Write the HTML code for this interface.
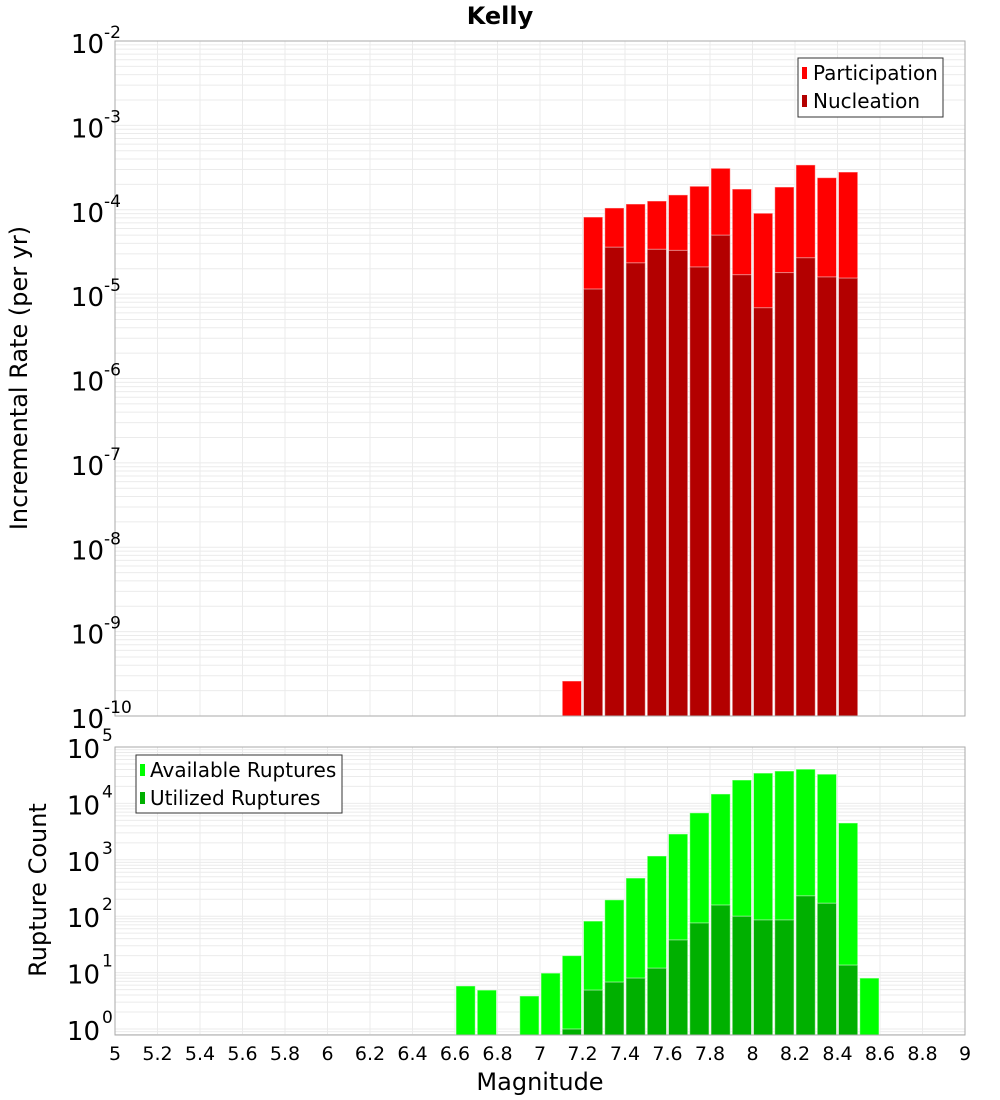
<!DOCTYPE html>
<html><head><meta charset="utf-8"><style>
body{margin:0;background:#fff}
svg{display:block;font-family:"DejaVu Sans","Liberation Sans",sans-serif}
</style></head><body>
<svg id="chart" width="1000" height="1100" viewBox="0 0 1000 1100" xmlns="http://www.w3.org/2000/svg">
<text x="500" y="24" text-anchor="middle" font-size="24" font-weight="bold">Kelly</text>
<g id="topPanel"></g><g id="botPanel"></g>
<text transform="translate(27,378) rotate(-90)" text-anchor="middle" font-size="24">Incremental Rate (per yr)</text>
<text transform="translate(46,890) rotate(-90)" text-anchor="middle" font-size="24">Rupture Count</text>
<text x="540" y="1090" text-anchor="middle" font-size="24">Magnitude</text>
<g>
<rect x="798" y="58" width="145" height="59" fill="#fff" stroke="#333"/>
<rect x="802" y="67" width="5" height="12" fill="#ff0000"/>
<text x="813" y="80" font-size="20">Participation</text>
<rect x="802" y="95" width="5" height="12" fill="#b30000"/>
<text x="813" y="108" font-size="20">Nucleation</text>
</g>
<g>
<rect x="136" y="755" width="206" height="58" fill="#fff" stroke="#333"/>
<rect x="140" y="764" width="5" height="12" fill="#00ff00"/>
<text x="150" y="777" font-size="20">Available Ruptures</text>
<rect x="140" y="792" width="5" height="12" fill="#00b000"/>
<text x="150" y="805" font-size="20">Utilized Ruptures</text>
</g>
</svg>
<script>
const partMags=[7.1,7.2,7.3,7.4,7.5,7.6,7.7,7.8,7.9,8.0,8.1,8.2,8.3,8.4];
const partVals=[2.6e-10,8.2e-5,1.05e-4,1.17e-4,1.27e-4,1.5e-4,1.9e-4,3.1e-4,1.76e-4,9.1e-5,1.86e-4,3.4e-4,2.4e-4,2.8e-4];
const nuclMags=[7.2,7.3,7.4,7.5,7.6,7.7,7.8,7.9,8.0,8.1,8.2,8.3,8.4];
const nuclVals=[1.15e-5,3.6e-5,2.35e-5,3.4e-5,3.3e-5,2.1e-5,5.0e-5,1.7e-5,6.9e-6,1.8e-5,2.7e-5,1.6e-5,1.55e-5];
const availMags=[6.6,6.7,6.9,7.0,7.1,7.2,7.3,7.4,7.5,7.6,7.7,7.8,7.9,8.0,8.1,8.2,8.3,8.4,8.5];
const availVals=[5.8,4.9,3.85,9.8,20,82,195,475,1170,2870,6800,14700,26000,34500,37500,40500,33000,4500,8];
const usedMags=[7.1,7.2,7.3,7.4,7.5,7.6,7.7,7.8,7.9,8.0,8.1,8.2,8.3,8.4];
const usedVals=[1,4.9,6.8,8,12,38,76,158,100,86,86,230,170,13.6];
const xTicks=["5","5.2","5.4","5.6","5.8","6","6.2","6.4","6.6","6.8","7","7.2","7.4","7.6","7.8","8","8.2","8.4","8.6","8.8","9"];
const topExps=[-2,-3,-4,-5,-6,-7,-8,-9,-10];
const botExps=[5,4,3,2,1,0];

const NS="http://www.w3.org/2000/svg";
const PL=115,PR=965;
const X=m=>PL+(m-5)*(PR-PL)/4;
const yTop=v=>41+(-2-Math.log10(v))*84.375;
const yBot=v=>1029-Math.log10(v)*56.4;
function mk(p,tag,a){const e=document.createElementNS(NS,tag);for(const k in a)e.setAttribute(k,a[k]);p.appendChild(e);return e;}
function panel(g,y0,y1,yf,lo,hi,name){
  const bg=mk(g,'rect',{x:PL,y:y0,width:PR-PL,height:y1-y0,fill:'#fff'});
  
  
  for(let e=lo;e<hi;e++)for(let k=1;k<10;k++){const y=yf(k*Math.pow(10,e));if(y>=y0&&y<=y1)mk(g,'line',{x1:PL,x2:PR,y1:y,y2:y,stroke:'#ebebeb','stroke-width':1});}
  xTicks.forEach(t=>{const x=X(+t);mk(g,'line',{x1:x,x2:x,y1:y0,y2:y1,stroke:'#ebebeb','stroke-width':1});});
}
function bars(g,mags,vals,yf,base,fill,name){
  mags.forEach((m,i)=>{const y=yf(vals[i]);
    const r=mk(g,'rect',{x:X(m)+1,y:y,width:X(m+0.1)-X(m)-2,height:base-y,fill:fill,stroke:'#fff','stroke-opacity':0.5,'stroke-width':1});
    
    });
}
const gTop=document.getElementById('topPanel'),gBot=document.getElementById('botPanel');
panel(gTop,41,716,yTop,-10,-2,'top');
bars(gTop,partMags,partVals,yTop,716,'#ff0000','participation');
bars(gTop,nuclMags,nuclVals,yTop,716,'#b30000','nucleation');
mk(gTop,'rect',{x:PL,y:41,width:PR-PL,height:675,fill:'none',stroke:'#aaa'});
topExps.forEach(e=>{const y=yTop(Math.pow(10,e));
  const t=mk(gTop,'text',{x:104,y:y+12,'text-anchor':'end','font-size':26});t.textContent='10';
  
  
  const s=mk(gTop,'text',{x:104,y:y-3,'font-size':17});s.textContent=String(e);});
panel(gBot,747,1035,yBot,-1,5,'bottom');
bars(gBot,availMags,availVals,yBot,1035,'#00ff00','available');
bars(gBot,usedMags,usedVals,yBot,1035,'#00b000','utilized');
mk(gBot,'rect',{x:PL,y:747,width:PR-PL,height:288,fill:'none',stroke:'#aaa'});
botExps.forEach(e=>{const y=yBot(Math.pow(10,e));
  const t=mk(gBot,'text',{x:100,y:y+11,'text-anchor':'end','font-size':26});t.textContent='10';
  
  
  const s=mk(gBot,'text',{x:102,y:y-6,'font-size':17});s.textContent=String(e);});
xTicks.forEach(t=>{const e=mk(gBot,'text',{x:X(+t),y:1060,'text-anchor':'middle','font-size':19});e.textContent=t;
  
  });
</script>
</body></html>
